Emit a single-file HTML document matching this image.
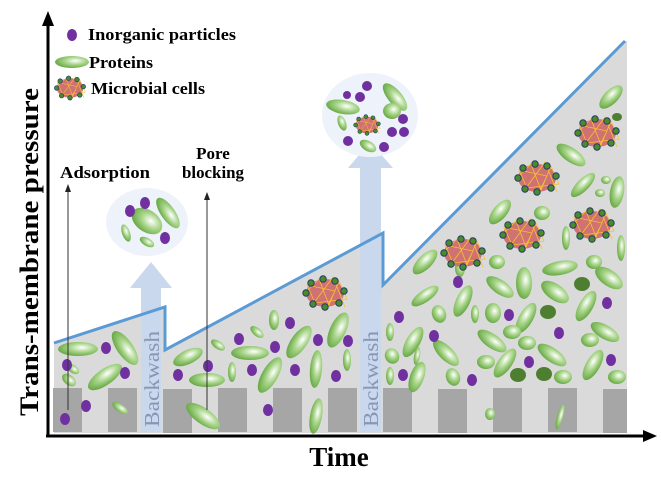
<!DOCTYPE html>
<html><head><meta charset="utf-8"><style>
html,body{margin:0;padding:0;background:#fff;width:662px;height:488px;overflow:hidden}
svg{display:block}
text{font-family:"Liberation Serif",serif;font-weight:bold}
</style></head><body>
<svg width="662" height="488" viewBox="0 0 662 488" xmlns="http://www.w3.org/2000/svg">
<defs>
<radialGradient id="g" cx="0.6" cy="0.4" r="0.7">
<stop offset="0" stop-color="#ffffff"/><stop offset="0.45" stop-color="#a6d487"/><stop offset="1" stop-color="#5a9e36"/>
</radialGradient>
<symbol id="cell" viewBox="-26 -20 52 40" width="52" height="40" overflow="visible">
<ellipse cx="0" cy="0" rx="19" ry="14" fill="#d07272"/>
<path d="M-22 2 L-6 -14 L4 12 L14 -12 L22 6 L-10 10 L-18 -8 L10 -2 L0 18 M-14 14 L8 -16 L20 14" fill="none" stroke="#f5c030" stroke-width="0.8"/>
<g fill="#4a8a2c" stroke="#1f3f66" stroke-width="1">
<circle cx="-14" cy="-10" r="3.2"/><circle cx="-2" cy="-14" r="3.2"/><circle cx="10" cy="-12" r="3.2"/><circle cx="19" cy="-2" r="3.2"/><circle cx="14" cy="10" r="3.2"/><circle cx="0" cy="14" r="3.2"/><circle cx="-12" cy="11" r="3.2"/><circle cx="-19" cy="0" r="3.2"/>
</g>
</symbol>
</defs>

<polygon points="54,343 165,307 165,350 383,233 383,285 625,41 627,41 627,433 54,433" fill="#dadada"/>

<g fill="#a6a6a6">
<rect x="53" y="388" width="29" height="44"/><rect x="108" y="388" width="29" height="44"/><rect x="163" y="389" width="29" height="44"/><rect x="218" y="388" width="29" height="44"/><rect x="273" y="388" width="29" height="44"/><rect x="328" y="388" width="29" height="44"/><rect x="383" y="388" width="29" height="44"/><rect x="438" y="389" width="29" height="44"/><rect x="493" y="388" width="29" height="44"/><rect x="548" y="388" width="29" height="44"/><rect x="603" y="389" width="24" height="44"/>
</g>

<g fill="#c9d8ec">
<rect x="141" y="288" width="20" height="144"/><polygon points="130,288 172,288 151,262"/>
<rect x="360" y="168" width="21" height="264"/><polygon points="348,168 393,168 370,142"/>
</g>
<text transform="translate(159,427) rotate(-90)" font-size="21" fill="#8796b5" style="font-weight:normal" textLength="96" lengthAdjust="spacingAndGlyphs">Backwash</text>
<text transform="translate(378,427) rotate(-90)" font-size="21" fill="#8796b5" style="font-weight:normal" textLength="96" lengthAdjust="spacingAndGlyphs">Backwash</text>

<ellipse cx="147" cy="222" rx="41" ry="34" fill="#eef2fa"/>
<ellipse cx="370" cy="115" rx="48" ry="42" fill="#eef2fa"/>

<g fill="url(#g)">
<ellipse cx="72" cy="62" rx="17" ry="6"/>
<ellipse cx="147" cy="221" rx="17" ry="11" transform="rotate(35 147 221)"/>
<ellipse cx="168" cy="213" rx="18" ry="7" transform="rotate(55 168 213)"/>
<ellipse cx="126" cy="233" rx="4" ry="9" transform="rotate(-20 126 233)"/>
<ellipse cx="147" cy="242" rx="8" ry="4" transform="rotate(30 147 242)"/>
<ellipse cx="343" cy="107" rx="17" ry="7" transform="rotate(10 343 107)"/>
<ellipse cx="395" cy="97" rx="17" ry="7" transform="rotate(50 395 97)"/>
<ellipse cx="392" cy="111" rx="9" ry="8"/>
<ellipse cx="342" cy="123" rx="4" ry="8" transform="rotate(-20 342 123)"/>
<ellipse cx="368" cy="146" rx="9" ry="5" transform="rotate(30 368 146)"/>
<ellipse cx="78" cy="349" rx="20" ry="7"/>
<ellipse cx="73" cy="369" rx="7" ry="4" transform="rotate(35 73 369)"/>
<ellipse cx="69" cy="380" rx="8" ry="5" transform="rotate(40 69 380)"/>
<ellipse cx="125" cy="348" rx="20" ry="8" transform="rotate(55 125 348)"/>
<ellipse cx="105" cy="377" rx="20" ry="8" transform="rotate(-35 105 377)"/>
<ellipse cx="120" cy="408" rx="9" ry="4" transform="rotate(35 120 408)"/>
<ellipse cx="188" cy="357" rx="16" ry="7" transform="rotate(-25 188 357)"/>
<ellipse cx="218" cy="345" rx="8" ry="4" transform="rotate(35 218 345)"/>
<ellipse cx="207" cy="380" rx="18" ry="7"/>
<ellipse cx="232" cy="372" rx="4" ry="10"/>
<ellipse cx="250" cy="353" rx="19" ry="7"/>
<ellipse cx="257" cy="332" rx="8" ry="4" transform="rotate(40 257 332)"/>
<ellipse cx="274" cy="320" rx="5" ry="10"/>
<ellipse cx="299" cy="342" rx="8" ry="19" transform="rotate(35 299 342)"/>
<ellipse cx="270" cy="375" rx="8" ry="20" transform="rotate(30 270 375)"/>
<ellipse cx="316" cy="369" rx="6" ry="19" transform="rotate(5 316 369)"/>
<ellipse cx="338" cy="330" rx="8" ry="19" transform="rotate(25 338 330)"/>
<ellipse cx="347" cy="360" rx="4" ry="11"/>
<ellipse cx="316" cy="416" rx="6" ry="18" transform="rotate(10 316 416)"/>
<ellipse cx="203" cy="416" rx="20" ry="8" transform="rotate(35 203 416)"/>
<ellipse cx="425" cy="296" rx="16" ry="6" transform="rotate(-35 425 296)"/>
<ellipse cx="463" cy="301" rx="17" ry="7" transform="rotate(-65 463 301)"/>
<ellipse cx="439" cy="314" rx="7" ry="9" transform="rotate(-20 439 314)"/>
<ellipse cx="475" cy="314" rx="4" ry="9"/>
<ellipse cx="493" cy="313" rx="8" ry="10"/>
<ellipse cx="526" cy="318" rx="17" ry="7" transform="rotate(-60 526 318)"/>
<ellipse cx="524" cy="283" rx="8" ry="16"/>
<ellipse cx="555" cy="292" rx="16" ry="8" transform="rotate(35 555 292)"/>
<ellipse cx="586" cy="306" rx="17" ry="7" transform="rotate(-60 586 306)"/>
<ellipse cx="609" cy="278" rx="16" ry="8" transform="rotate(35 609 278)"/>
<ellipse cx="500" cy="287" rx="16" ry="7" transform="rotate(35 500 287)"/>
<ellipse cx="605" cy="332" rx="16" ry="7" transform="rotate(30 605 332)"/>
<ellipse cx="590" cy="340" rx="9" ry="7"/>
<ellipse cx="512" cy="332" rx="9" ry="7"/>
<ellipse cx="492" cy="341" rx="17" ry="7" transform="rotate(35 492 341)"/>
<ellipse cx="413" cy="342" rx="17" ry="7" transform="rotate(-60 413 342)"/>
<ellipse cx="390" cy="332" rx="4" ry="9"/>
<ellipse cx="446" cy="353" rx="17" ry="7" transform="rotate(45 446 353)"/>
<ellipse cx="486" cy="362" rx="9" ry="7"/>
<ellipse cx="505" cy="363" rx="17" ry="7" transform="rotate(-55 505 363)"/>
<ellipse cx="527" cy="343" rx="9" ry="7"/>
<ellipse cx="552" cy="355" rx="17" ry="7" transform="rotate(35 552 355)"/>
<ellipse cx="593" cy="365" rx="17" ry="7" transform="rotate(-60 593 365)"/>
<ellipse cx="617" cy="377" rx="9" ry="7"/>
<ellipse cx="563" cy="377" rx="9" ry="7"/>
<ellipse cx="390" cy="376" rx="4" ry="9"/>
<ellipse cx="392" cy="356" rx="7" ry="8" transform="rotate(-30 392 356)"/>
<ellipse cx="417" cy="377" rx="7" ry="16" transform="rotate(20 417 377)"/>
<ellipse cx="453" cy="377" rx="7" ry="9" transform="rotate(-20 453 377)"/>
<ellipse cx="417" cy="356" rx="3" ry="9" transform="rotate(10 417 356)"/>
<ellipse cx="490" cy="414" rx="5" ry="6"/>
<ellipse cx="560" cy="417" rx="3" ry="13" transform="rotate(15 560 417)"/>
<ellipse cx="425" cy="262" rx="16" ry="7" transform="rotate(-45 425 262)"/>
<ellipse cx="460" cy="268" rx="5" ry="9"/>
<ellipse cx="611" cy="97" rx="15" ry="7" transform="rotate(-45 611 97)"/>
<ellipse cx="571" cy="155" rx="17" ry="7" transform="rotate(35 571 155)"/>
<ellipse cx="583" cy="185" rx="16" ry="6" transform="rotate(-45 583 185)"/>
<ellipse cx="617" cy="192" rx="7" ry="16" transform="rotate(10 617 192)"/>
<ellipse cx="606" cy="180" rx="5" ry="4"/>
<ellipse cx="600" cy="193" rx="5" ry="4"/>
<ellipse cx="500" cy="212" rx="15" ry="7" transform="rotate(-50 500 212)"/>
<ellipse cx="542" cy="213" rx="8" ry="7"/>
<ellipse cx="566" cy="238" rx="4" ry="12"/>
<ellipse cx="621" cy="248" rx="4" ry="13"/>
<ellipse cx="497" cy="262" rx="8" ry="7"/>
<ellipse cx="560" cy="268" rx="18" ry="7" transform="rotate(-10 560 268)"/>
<ellipse cx="594" cy="262" rx="8" ry="7"/>
</g>
<g fill="#4e7f30">
<ellipse cx="617" cy="117" rx="5" ry="4"/>
<ellipse cx="582" cy="284" rx="8" ry="7"/><ellipse cx="548" cy="312" rx="8" ry="7"/><ellipse cx="518" cy="375" rx="8" ry="7"/><ellipse cx="544" cy="374" rx="8" ry="7"/>
</g>
<g fill="#7030a0">
<ellipse cx="72" cy="35" rx="5" ry="6"/>
<ellipse cx="130" cy="211" rx="5" ry="6"/><ellipse cx="145" cy="203" rx="5" ry="6"/><ellipse cx="165" cy="238" rx="5" ry="6"/>
<ellipse cx="367" cy="86" rx="5" ry="5"/><ellipse cx="347" cy="95" rx="4" ry="4"/><ellipse cx="360" cy="97" rx="5" ry="5"/><ellipse cx="403" cy="119" rx="5" ry="5"/><ellipse cx="392" cy="132" rx="5" ry="5"/><ellipse cx="404" cy="132" rx="5" ry="5"/><ellipse cx="348" cy="141" rx="5" ry="5"/><ellipse cx="384" cy="147" rx="5" ry="5"/>
<ellipse cx="106" cy="348" rx="5" ry="6"/><ellipse cx="67" cy="365" rx="5" ry="6"/><ellipse cx="125" cy="373" rx="5" ry="6"/><ellipse cx="86" cy="406" rx="5" ry="6"/><ellipse cx="65" cy="419" rx="5" ry="6"/>
<ellipse cx="239" cy="339" rx="5" ry="6"/><ellipse cx="275" cy="347" rx="5" ry="6"/><ellipse cx="290" cy="323" rx="5" ry="6"/><ellipse cx="318" cy="340" rx="5" ry="6"/><ellipse cx="348" cy="341" rx="5" ry="6"/><ellipse cx="252" cy="370" rx="5" ry="6"/><ellipse cx="295" cy="370" rx="5" ry="6"/><ellipse cx="336" cy="376" rx="5" ry="6"/><ellipse cx="178" cy="375" rx="5" ry="6"/><ellipse cx="208" cy="366" rx="5" ry="6"/><ellipse cx="268" cy="410" rx="5" ry="6"/>
<ellipse cx="458" cy="282" rx="5" ry="6"/><ellipse cx="399" cy="317" rx="5" ry="6"/><ellipse cx="434" cy="336" rx="5" ry="6"/><ellipse cx="472" cy="380" rx="5" ry="6"/><ellipse cx="509" cy="315" rx="5" ry="6"/><ellipse cx="559" cy="333" rx="5" ry="6"/><ellipse cx="607" cy="303" rx="5" ry="6"/><ellipse cx="611" cy="360" rx="5" ry="6"/><ellipse cx="403" cy="375" rx="5" ry="6"/><ellipse cx="529" cy="362" rx="5" ry="6"/>
</g>
<use href="#cell" x="44" y="68" width="52" height="40" transform="translate(70 88) scale(0.7) translate(-70 -88)"/>
<use href="#cell" x="341" y="105" width="52" height="40" transform="translate(367 125) scale(0.6) translate(-367 -125)"/>
<use href="#cell" x="299" y="273"/>
<use href="#cell" x="437" y="233"/>
<use href="#cell" x="496" y="215"/>
<use href="#cell" x="511" y="158"/>
<use href="#cell" x="566" y="205"/>
<use href="#cell" x="571" y="113"/>

<polyline points="54,343 165,307 165,350 383,233 383,285 625,41" fill="none" stroke="#5b9bd5" stroke-width="3"/>

<g stroke="#333" stroke-width="1">
<line x1="68" y1="190" x2="68" y2="410"/><line x1="207" y1="198" x2="207" y2="410"/>
</g>
<polygon points="65,192 71,192 68,184" fill="#222"/>
<polygon points="204,200 210,200 207,192" fill="#222"/>

<line x1="48" y1="24" x2="48" y2="437" stroke="#000" stroke-width="3"/>
<polygon points="42,26 54,26 48,11" fill="#000"/>
<line x1="46" y1="436" x2="645" y2="436" stroke="#000" stroke-width="3"/>
<polygon points="643,430 643,442 657,436" fill="#000"/>

<text x="88" y="40" font-size="17" textLength="148" lengthAdjust="spacingAndGlyphs">Inorganic particles</text>
<text x="89" y="68" font-size="17" textLength="64" lengthAdjust="spacingAndGlyphs">Proteins</text>
<text x="91" y="94" font-size="17" textLength="114" lengthAdjust="spacingAndGlyphs">Microbial cells</text>
<text x="60" y="178" font-size="17" textLength="90" lengthAdjust="spacingAndGlyphs">Adsorption</text>
<text x="213" y="159" font-size="17" text-anchor="middle">Pore</text>
<text x="213" y="178" font-size="17" text-anchor="middle" textLength="62" lengthAdjust="spacingAndGlyphs">blocking</text>
<text transform="translate(38,252) rotate(-90)" font-size="26" text-anchor="middle" textLength="328" lengthAdjust="spacingAndGlyphs">Trans-membrane pressure</text>
<text x="339" y="466" font-size="27" text-anchor="middle">Time</text>
</svg>
</body></html>
